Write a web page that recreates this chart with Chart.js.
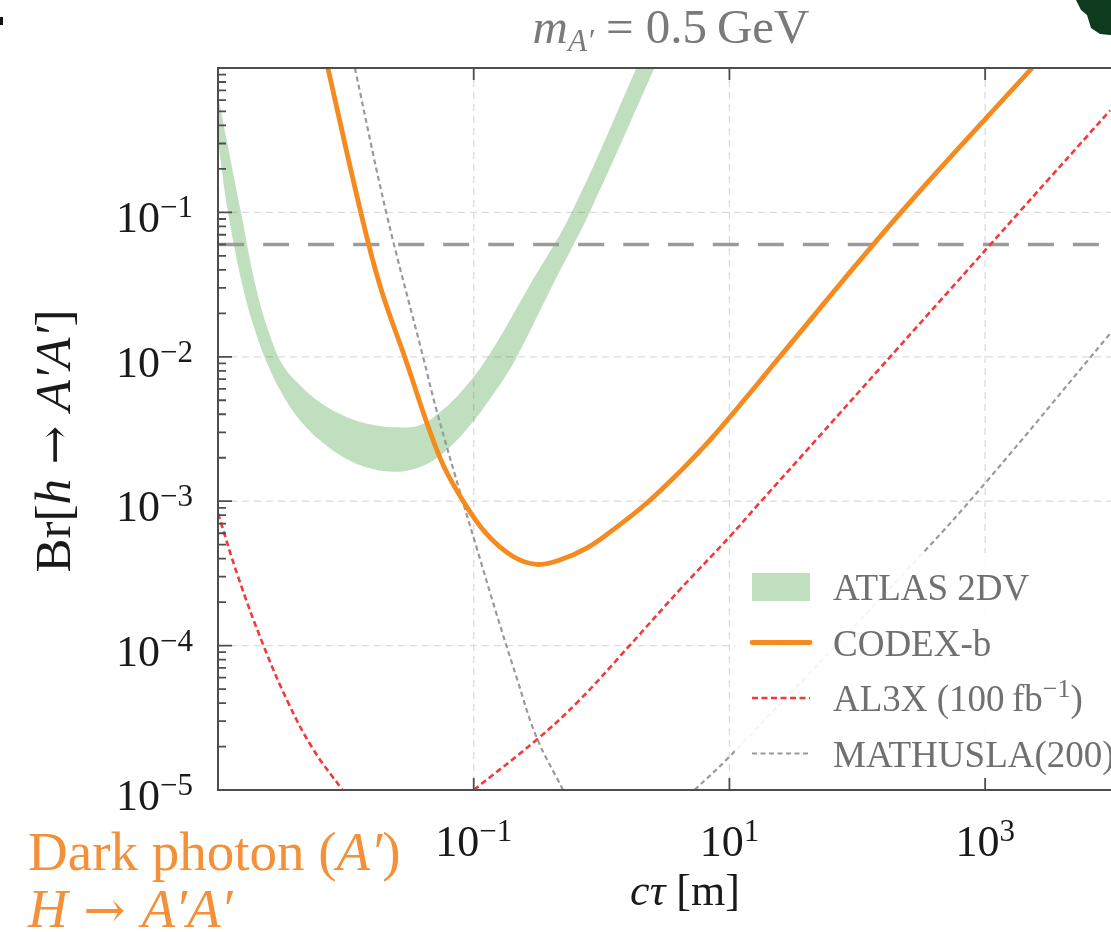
<!DOCTYPE html>
<html>
<head>
<meta charset="utf-8">
<title>Br[h → A′A′] vs cτ</title>
<script src="https://cdn.jsdelivr.net/npm/chart.js@4.4.1/dist/chart.umd.min.js"></script>
<style>
  html, body { margin: 0; padding: 0; overflow: hidden; background: #fff; }
  #wrap { width: 1120px; height: 932px; }
</style>
</head>
<body>
<div id="wrap"><canvas id="myChart" width="1120" height="932"></canvas></div>
<script>
const ctx = document.getElementById('myChart');

// ATLAS 2DV band, lower and upper edge (c tau in m, Br)
const atlasLowX = [0.001, 0.0012, 0.001567, 0.001945, 0.00246, 0.00322, 0.00438, 0.00627, 0.00982, 0.01539, 0.02328, 0.0334, 0.047, 0.0649, 0.0881, 0.1175, 0.1687, 0.2168, 0.414, 0.805, 2.59, 3.27];
const atlasLowY = [0.315, 0.1, 0.0303, 0.01525, 0.00873, 0.00542, 0.00364, 0.00264, 0.00199, 0.00169, 0.0016, 0.001665, 0.00189, 0.002365, 0.00315, 0.00434, 0.00687, 0.00993, 0.0313, 0.1, 1.0, 1.6];
const atlasHighX = [0.001, 0.001513, 0.00198, 0.002547, 0.00322, 0.00438, 0.00627, 0.00982, 0.01539, 0.0246, 0.0378, 0.0542, 0.0778, 0.1285, 0.274, 0.583, 1.875, 2.36];
const atlasHighY = [0.645, 0.1, 0.0303, 0.0141, 0.00873, 0.00635, 0.00484, 0.00387, 0.00341, 0.00325, 0.00336, 0.00413, 0.00559, 0.00993, 0.0313, 0.1, 1.0, 1.6];

// CODEX-b
const codexX = [0.00723, 0.01309, 0.01845, 0.0289, 0.0542, 0.082, 0.1265, 0.2018, 0.3105, 0.47, 0.764, 1.219, 2.248, 4.064, 7.36, 15.1, 24.6, 212.9, 2328];
const codexY = [1.0, 0.1, 0.0313, 0.00993, 0.00202, 0.001016, 5.91e-4, 4.16e-4, 3.65e-4, 3.91e-4, 4.73e-4, 6.3e-4, 9.68e-4, 1.59e-3, 2.77e-3, 5.86e-3, 9.93e-3, 0.097, 1.0];

// AL3X (100 fb^-1), two branches
const al3xLeftX = [0.001, 0.00143, 0.00225, 0.00352, 0.00552, 0.0094];
const al3xLeftY = [8.26e-4, 3.03e-4, 1.02e-4, 4.07e-5, 1.93e-5, 1.0e-5];
const al3xRightX = [0.1, 0.309, 0.673, 1.655, 4.06, 10, 17.1, 50.5, 148.6, 437, 1074, 1875, 9485];
const al3xRightY = [1e-5, 2.22e-5, 4.2e-5, 1.0e-4, 2.42e-4, 5.66e-4, 9.66e-4, 2.82e-3, 8.23e-3, 0.024, 0.0586, 0.102, 0.508];

// MATHUSLA(200), two branches
const mathusLeftX = [0.01175, 0.0208, 0.0402, 0.0512, 0.082, 0.105, 0.1504, 0.2157, 0.309, 0.5];
const mathusLeftY = [1.0, 0.098, 0.00997, 0.00426, 0.001, 0.000483, 1.67e-4, 6.08e-5, 2.34e-5, 1.0e-5];
const mathusRightX = [5.33, 10, 304.8, 1012, 9485];
const mathusRightY = [1e-5, 1.7e-5, 4.11e-4, 1.35e-3, 0.01446];

// horizontal reference line
const brLimit = 0.06;

const xTicks = [0.1, 10, 1000];
const yTicks = [1e-5, 1e-4, 1e-3, 1e-2, 1e-1];

const FONT = '"Liberation Serif", "DejaVu Serif", serif';
const orange = '#f58a1f';
const red = '#f23a3a';
const grey = '#9a9a9a';

function pts(xs, ys) {
  return xs.map((x, i) => ({ x, y: ys[i] }));
}

const atlasShape = pts(atlasLowX, atlasLowY).concat(pts(atlasHighX, atlasHighY).reverse());

function fontOf(r, size) {
  const fam = r.fam ? '"' + r.fam + '", ' + FONT : FONT;
  return (r.it ? 'italic ' : '') + Math.round((r.size || size) * (r.scale || 1)) + 'px ' + fam;
}

function drawRich(c, runs, x, y, align, size) {
  let w = 0;
  runs.forEach(r => { c.font = fontOf(r, size); w += c.measureText(r.t).width; });
  let cx = align === 'center' ? x - w / 2 : align === 'right' ? x - w : x;
  c.textAlign = 'left';
  c.textBaseline = 'alphabetic';
  runs.forEach(r => {
    c.font = fontOf(r, size);
    c.fillText(r.t, cx, y + (r.dy || 0));
    cx += c.measureText(r.t).width;
  });
}

function expo(v) {
  const e = Math.round(Math.log10(v));
  return (e < 0 ? '\u2212' : '') + Math.abs(e);
}

// long arrow taken from DejaVu, which draws it full width
const arrow = { t: ' \u2192 ', fam: 'DejaVu Serif', scale: 0.9 };

const legendRows = [
  { label: 'ATLAS 2DV', runs: [{ t: 'ATLAS 2DV' }] },
  { label: 'CODEX-b', runs: [{ t: 'CODEX-b' }] },
  { label: 'AL3X (100 fb⁻¹)', runs: [{ t: 'AL3X (100\u2009fb' }, { t: '\u22121', size: 26, dy: -14 }, { t: ')' }] },
  { label: 'MATHUSLA(200)', runs: [{ t: 'MATHUSLA(200)' }] }
];

const decor = {
  id: 'decor',
  beforeDatasetsDraw(chart) {
    const { ctx: c, chartArea: a, scales: { x, y } } = chart;
    c.save();
    c.strokeStyle = '#dcdcdc';
    c.lineWidth = 1.3;
    c.setLineDash([7, 5]);
    xTicks.forEach(v => {
      const px = x.getPixelForValue(v);
      c.beginPath(); c.moveTo(px, a.top); c.lineTo(px, a.bottom); c.stroke();
    });
    yTicks.slice(1).forEach(v => {
      const py = y.getPixelForValue(v);
      c.beginPath(); c.moveTo(a.left, py); c.lineTo(a.right, py); c.stroke();
    });
    c.restore();
  },
  afterDatasetsDraw(chart) {
    const { ctx: c, chartArea: a, scales: { x, y } } = chart;
    c.save();

    // legend
    c.fillStyle = 'rgba(255,255,255,0.9)';
    c.fillRect(735, 553, 400, 230);
    legendRows.forEach((row, i) => {
      const ds = chart.data.datasets.find(d => d.label === row.label);
      const cy = 587 + i * 55.5;
      if (ds.fill === 'shape') {
        c.fillStyle = ds.backgroundColor;
        c.fillRect(752, cy - 14, 58, 28);
      } else {
        c.strokeStyle = ds.borderColor;
        c.lineWidth = ds.borderWidth;
        c.setLineDash(ds.borderDash || []);
        c.lineCap = ds.borderDash ? 'butt' : 'round';
        c.beginPath(); c.moveTo(752, cy); c.lineTo(810, cy); c.stroke();
        c.setLineDash([]);
      }
      c.fillStyle = '#707070';
      drawRich(c, row.runs, 833, cy + 13, 'left', 37);
    });

    // frame
    c.lineCap = 'butt';
    c.strokeStyle = '#4d4d4d';
    c.lineWidth = 2;
    c.strokeRect(a.left, a.top, a.right - a.left, a.bottom - a.top);

    // inward ticks
    c.lineWidth = 1.8;
    c.beginPath();
    for (let k = -5; k <= 0; k++) {
      const py = y.getPixelForValue(Math.pow(10, k));
      c.moveTo(a.left, py); c.lineTo(a.left + 14, py);
      if (k < 0) {
        for (let m = 2; m <= 9; m++) {
          const pm = y.getPixelForValue(m * Math.pow(10, k));
          c.moveTo(a.left, pm); c.lineTo(a.left + 8, pm);
        }
      }
    }
    xTicks.forEach(v => {
      const px = x.getPixelForValue(v);
      c.moveTo(px, a.bottom); c.lineTo(px, a.bottom - 12);
      c.moveTo(px, a.top); c.lineTo(px, a.top + 12);
    });
    c.stroke();
    c.restore();
  },
  afterDraw(chart) {
    const { ctx: c, chartArea: a, scales: { x, y } } = chart;
    c.save();
    c.fillStyle = '#1a1a1a';
    yTicks.forEach(v => {
      const py = y.getPixelForValue(v);
      drawRich(c, [{ t: '10' }, { t: expo(v), size: 31, dy: -15 }], a.left - 25, py + 20, 'right', 44);
    });
    xTicks.forEach(v => {
      const px = x.getPixelForValue(v);
      drawRich(c, [{ t: '10' }, { t: expo(v), size: 31, dy: -15 }], px, a.bottom + 66, 'center', 44);
    });

    // axis titles
    drawRich(c, [{ t: 'c\u03C4', it: true }, { t: ' [m]' }], 685, 905, 'center', 44);
    c.save();
    c.translate(70, 441);
    c.rotate(-Math.PI / 2);
    drawRich(c, [{ t: 'Br[' }, { t: 'h', it: true }, arrow, { t: 'A\u2032A\u2032', it: true }, { t: ']' }], 0, 0, 'center', 51);
    c.restore();

    // title
    c.fillStyle = '#7a7a7a';
    drawRich(c, [{ t: 'm', it: true }, { t: 'A\u2032', it: true, size: 31, dy: 8 }, { t: ' = 0.5\u2009GeV' }], 671, 43, 'center', 49);

    // orange annotation
    c.fillStyle = '#f39038';
    drawRich(c, [{ t: 'Dark photon (' }, { t: 'A\u2032', it: true }, { t: ')' }], 28, 870, 'left', 55);
    drawRich(c, [{ t: 'H', it: true }, arrow, { t: 'A\u2032A\u2032', it: true }], 28, 927, 'left', 55);

    // cropped neighbours of the original figure
    c.fillStyle = '#0e3b1e';
    c.beginPath();
    c.moveTo(1076, 0); c.lineTo(1120, 0); c.lineTo(1120, 36); c.lineTo(1100, 34);
    c.lineTo(1091, 28); c.lineTo(1087, 15); c.lineTo(1081, 10); c.closePath(); c.fill();
    c.fillStyle = '#111';
    c.fillRect(0, 17, 3, 8);
    c.restore();
  }
};

const common = { pointRadius: 0, fill: false, clip: 0, tension: 0.4 };

new Chart(ctx, {
  type: 'line',
  data: {
    datasets: [
      Object.assign({ label: 'CODEX-b', data: pts(codexX, codexY), borderColor: orange, borderWidth: 4.8, order: 0 }, common),
      Object.assign({ label: 'AL3X (100 fb⁻¹)', data: pts(al3xLeftX, al3xLeftY), borderColor: red, borderWidth: 2.6, borderDash: [6, 3.5], order: 1 }, common),
      Object.assign({ label: 'AL3X (100 fb⁻¹) ', data: pts(al3xRightX, al3xRightY), borderColor: red, borderWidth: 2.6, borderDash: [6, 3.5], order: 1 }, common),
      Object.assign({ label: 'MATHUSLA(200)', data: pts(mathusLeftX, mathusLeftY), borderColor: grey, borderWidth: 2.2, borderDash: [5, 3.5], order: 2 }, common),
      Object.assign({ label: 'MATHUSLA(200) ', data: pts(mathusRightX, mathusRightY), borderColor: grey, borderWidth: 2.2, borderDash: [5, 3.5], order: 2 }, common),
      Object.assign({}, common, { label: 'Br limit', data: [{ x: 1e-3, y: brLimit }, { x: 1e4, y: brLimit }], borderColor: '#9b9b9b', borderWidth: 3.5, borderDash: [26, 19], order: 3 }),
      Object.assign({}, common, {
        label: 'ATLAS 2DV', data: atlasShape, fill: 'shape', tension: 0.4,
        backgroundColor: 'rgba(0,128,0,0.25)', borderColor: 'rgba(0,0,0,0)', borderWidth: 0, order: 4
      })
    ]
  },
  options: {
    responsive: false,
    animation: false,
    events: [],
    layout: { padding: { top: 68, right: 7, left: 0, bottom: 0 } },
    plugins: { legend: { display: false }, tooltip: { enabled: false } },
    scales: {
      x: {
        type: 'logarithmic', min: 1e-3, max: 1e4,
        grid: { display: false }, border: { display: false }, ticks: { display: false },
        afterFit: s => { s.height = 142; }
      },
      y: {
        type: 'logarithmic', min: 1e-5, max: 1,
        grid: { display: false }, border: { display: false }, ticks: { display: false },
        afterFit: s => { s.width = 218; }
      }
    }
  },
  plugins: [decor]
});
</script>
</body>
</html>
